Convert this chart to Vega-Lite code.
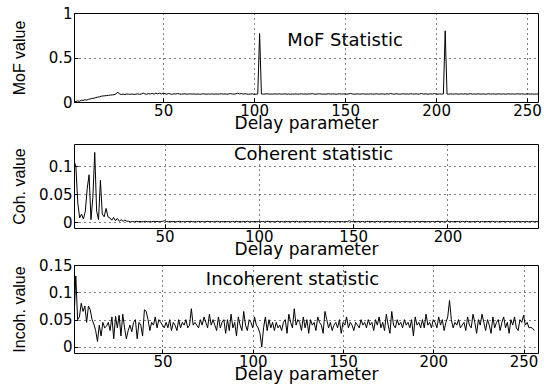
{
"$schema":"https://vega.github.io/schema/vega-lite/v6.json",
"background":"white",
"padding":{"left":10,"top":5,"right":5,"bottom":5},
"bounds":"flush",
"spacing":42,
"config":{
 "view":{"stroke":"black","strokeWidth":1},
 "axis":{"domain":false,"ticks":true,"tickSize":-4,"tickColor":"black","tickWidth":1,"grid":true,"gridColor":"black","gridDash":[1,4],"gridWidth":1,"gridOpacity":1,
  "labelFont":"DejaVu Sans","labelFontSize":15,"labelColor":"black","labelOverlap":false,"labelFlush":false,"labelSeparation":0,"tickCount":10,
  "titleColor":"black","titleFontWeight":"normal"},
 "axisX":{"labelPadding":5,"titleFont":"DejaVu Sans","titleFontSize":17,"titleY":26,"titleBaseline":"alphabetic"},
 "axisY":{"labelPadding":6,"titleX":-47,"titleFont":"Liberation Sans","titleFontSize":16,"titleFontWeight":"normal"}
},
"datasets":{
"mof":[
{"x":1,"y":0.01},{"x":2,"y":0.005},{"x":3,"y":0.012},{"x":4,"y":0.008},{"x":5,"y":0.02},{"x":6,"y":0.018},{"x":7,"y":0.025},{"x":8,"y":0.022},{"x":9,"y":0.03},{"x":10,"y":0.035},
{"x":11,"y":0.04},{"x":12,"y":0.042},{"x":13,"y":0.05},{"x":14,"y":0.055},{"x":15,"y":0.058},{"x":16,"y":0.065},{"x":17,"y":0.068},{"x":18,"y":0.07},{"x":19,"y":0.072},{"x":20,"y":0.075},
{"x":21,"y":0.078},{"x":22,"y":0.08},{"x":23,"y":0.082},{"x":24,"y":0.09},{"x":25,"y":0.112},{"x":26,"y":0.09},{"x":27,"y":0.085},{"x":28,"y":0.088},{"x":29,"y":0.084},{"x":30,"y":0.09},
{"x":31,"y":0.088},{"x":32,"y":0.086},{"x":33,"y":0.09},{"x":34,"y":0.085},{"x":35,"y":0.088},{"x":36,"y":0.092},{"x":37,"y":0.086},{"x":38,"y":0.09},{"x":39,"y":0.1},{"x":40,"y":0.09},
{"x":41,"y":0.088},{"x":42,"y":0.094},{"x":43,"y":0.09},{"x":44,"y":0.097},{"x":45,"y":0.088},{"x":46,"y":0.1},{"x":47,"y":0.092},{"x":48,"y":0.098},{"x":49,"y":0.09},{"x":50,"y":0.1},
{"x":51,"y":0.094},{"x":52,"y":0.088},{"x":53,"y":0.096},{"x":54,"y":0.09},{"x":55,"y":0.087},{"x":56,"y":0.092},{"x":57,"y":0.09},{"x":58,"y":0.095},{"x":59,"y":0.09},{"x":60,"y":0.088},
{"x":61,"y":0.09},{"x":62,"y":0.092},{"x":63,"y":0.088},{"x":64,"y":0.09},{"x":65,"y":0.091},{"x":66,"y":0.089},{"x":67,"y":0.09},{"x":68,"y":0.088},{"x":69,"y":0.09},{"x":70,"y":0.087},
{"x":71,"y":0.089},{"x":72,"y":0.092},{"x":73,"y":0.09},{"x":74,"y":0.088},{"x":75,"y":0.09},{"x":76,"y":0.089},{"x":77,"y":0.091},{"x":78,"y":0.088},{"x":79,"y":0.09},{"x":80,"y":0.089},
{"x":81,"y":0.09},{"x":82,"y":0.092},{"x":83,"y":0.089},{"x":84,"y":0.091},{"x":85,"y":0.088},{"x":86,"y":0.09},{"x":87,"y":0.094},{"x":88,"y":0.09},{"x":89,"y":0.088},{"x":90,"y":0.092},
{"x":91,"y":0.098},{"x":92,"y":0.09},{"x":93,"y":0.095},{"x":94,"y":0.089},{"x":95,"y":0.092},{"x":96,"y":0.09},{"x":97,"y":0.087},{"x":98,"y":0.09},{"x":99,"y":0.092},{"x":100,"y":0.085},
{"x":101,"y":0.088},{"x":102,"y":0.09},{"x":103,"y":0.77},{"x":104,"y":0.09},{"x":105,"y":0.088},{"x":106,"y":0.09},{"x":107,"y":0.092},{"x":108,"y":0.089},{"x":109,"y":0.09},{"x":110,"y":0.088},
{"x":111,"y":0.091},{"x":112,"y":0.09},{"x":113,"y":0.089},{"x":114,"y":0.092},{"x":115,"y":0.088},{"x":116,"y":0.09},{"x":117,"y":0.091},{"x":118,"y":0.088},{"x":119,"y":0.09},{"x":120,"y":0.087},
{"x":121,"y":0.09},{"x":122,"y":0.089},{"x":123,"y":0.091},{"x":124,"y":0.088},{"x":125,"y":0.09},{"x":126,"y":0.092},{"x":127,"y":0.089},{"x":128,"y":0.09},{"x":129,"y":0.088},{"x":130,"y":0.091},
{"x":131,"y":0.09},{"x":132,"y":0.094},{"x":133,"y":0.089},{"x":134,"y":0.088},{"x":135,"y":0.09},{"x":136,"y":0.092},{"x":137,"y":0.089},{"x":138,"y":0.09},{"x":139,"y":0.088},{"x":140,"y":0.09},
{"x":141,"y":0.092},{"x":142,"y":0.089},{"x":143,"y":0.091},{"x":144,"y":0.09},{"x":145,"y":0.088},{"x":146,"y":0.09},{"x":147,"y":0.092},{"x":148,"y":0.089},{"x":149,"y":0.091},{"x":150,"y":0.09},
{"x":151,"y":0.088},{"x":152,"y":0.092},{"x":153,"y":0.096},{"x":154,"y":0.09},{"x":155,"y":0.088},{"x":156,"y":0.09},{"x":157,"y":0.091},{"x":158,"y":0.089},{"x":159,"y":0.09},{"x":160,"y":0.092},
{"x":161,"y":0.088},{"x":162,"y":0.09},{"x":163,"y":0.089},{"x":164,"y":0.091},{"x":165,"y":0.09},{"x":166,"y":0.088},{"x":167,"y":0.092},{"x":168,"y":0.09},{"x":169,"y":0.089},{"x":170,"y":0.091},
{"x":171,"y":0.09},{"x":172,"y":0.088},{"x":173,"y":0.092},{"x":174,"y":0.089},{"x":175,"y":0.095},{"x":176,"y":0.09},{"x":177,"y":0.088},{"x":178,"y":0.093},{"x":179,"y":0.09},{"x":180,"y":0.088},
{"x":181,"y":0.09},{"x":182,"y":0.092},{"x":183,"y":0.089},{"x":184,"y":0.091},{"x":185,"y":0.088},{"x":186,"y":0.093},{"x":187,"y":0.09},{"x":188,"y":0.089},{"x":189,"y":0.092},{"x":190,"y":0.088},
{"x":191,"y":0.09},{"x":192,"y":0.095},{"x":193,"y":0.089},{"x":194,"y":0.091},{"x":195,"y":0.09},{"x":196,"y":0.088},{"x":197,"y":0.092},{"x":198,"y":0.089},{"x":199,"y":0.094},{"x":200,"y":0.09},
{"x":201,"y":0.088},{"x":202,"y":0.091},{"x":203,"y":0.089},{"x":204,"y":0.09},{"x":205,"y":0.8},{"x":206,"y":0.09},{"x":207,"y":0.088},{"x":208,"y":0.091},{"x":209,"y":0.09},{"x":210,"y":0.089},
{"x":211,"y":0.092},{"x":212,"y":0.088},{"x":213,"y":0.09},{"x":214,"y":0.091},{"x":215,"y":0.089},{"x":216,"y":0.092},{"x":217,"y":0.088},{"x":218,"y":0.09},{"x":219,"y":0.093},{"x":220,"y":0.089},
{"x":221,"y":0.09},{"x":222,"y":0.088},{"x":223,"y":0.092},{"x":224,"y":0.09},{"x":225,"y":0.089},{"x":226,"y":0.091},{"x":227,"y":0.088},{"x":228,"y":0.09},{"x":229,"y":0.092},{"x":230,"y":0.089},
{"x":231,"y":0.091},{"x":232,"y":0.09},{"x":233,"y":0.088},{"x":234,"y":0.092},{"x":235,"y":0.09},{"x":236,"y":0.089},{"x":237,"y":0.091},{"x":238,"y":0.088},{"x":239,"y":0.09},{"x":240,"y":0.092},
{"x":241,"y":0.089},{"x":242,"y":0.091},{"x":243,"y":0.088},{"x":244,"y":0.09},{"x":245,"y":0.092},{"x":246,"y":0.089},{"x":247,"y":0.091},{"x":248,"y":0.09},{"x":249,"y":0.088},{"x":250,"y":0.092},
{"x":251,"y":0.09},{"x":252,"y":0.089},{"x":253,"y":0.091},{"x":254,"y":0.088},{"x":255,"y":0.09},{"x":256,"y":0.09}
],
"coh":[
{"x":2,"y":0.11},{"x":3,"y":0.1},{"x":4,"y":0.035},{"x":5,"y":0.008},{"x":6,"y":0.015},{"x":7,"y":0.006},{"x":8,"y":0.02},{"x":9,"y":0.06},{"x":10,"y":0.085},
{"x":11,"y":0.005},{"x":12,"y":0.045},{"x":13,"y":0.125},{"x":14,"y":0.02},{"x":15,"y":0.005},{"x":16,"y":0.075},{"x":17,"y":0.015},{"x":18,"y":0.01},{"x":19,"y":0.025},{"x":20,"y":0.01},
{"x":21,"y":0.008},{"x":22,"y":0.004},{"x":23,"y":0.009},{"x":24,"y":0.003},{"x":25,"y":0.007},{"x":26,"y":0.002},{"x":27,"y":0.005},{"x":28,"y":0.002},{"x":29,"y":0.004},{"x":30,"y":0.002},
{"x":31,"y":0.002},{"x":32,"y":0.001},{"x":33,"y":0.0015},{"x":34,"y":0.001},{"x":35,"y":0.002},{"x":36,"y":0.0012},{"x":37,"y":0.0018},{"x":38,"y":0.001},{"x":39,"y":0.0014},{"x":40,"y":0.002},
{"x":41,"y":0.0011},{"x":42,"y":0.0016},{"x":43,"y":0.001},{"x":44,"y":0.0019},{"x":45,"y":0.0013},{"x":46,"y":0.0017},{"x":47,"y":0.001},{"x":48,"y":0.0015},{"x":49,"y":0.002},{"x":50,"y":0.003},
{"x":51,"y":0.0015},{"x":52,"y":0.001},{"x":53,"y":0.0018},{"x":54,"y":0.0012},{"x":55,"y":0.0016},{"x":56,"y":0.001},{"x":57,"y":0.0014},{"x":58,"y":0.0019},{"x":59,"y":0.0011},{"x":60,"y":0.0015},
{"x":61,"y":0.001},{"x":62,"y":0.0017},{"x":63,"y":0.0013},{"x":64,"y":0.002},{"x":65,"y":0.0011},{"x":66,"y":0.0015},{"x":67,"y":0.001},{"x":68,"y":0.0018},{"x":69,"y":0.0012},{"x":70,"y":0.0016},
{"x":71,"y":0.001},{"x":72,"y":0.0014},{"x":73,"y":0.002},{"x":74,"y":0.0012},{"x":75,"y":0.0017},{"x":76,"y":0.001},{"x":77,"y":0.0015},{"x":78,"y":0.0019},{"x":79,"y":0.0011},{"x":80,"y":0.0016},
{"x":81,"y":0.001},{"x":82,"y":0.0018},{"x":83,"y":0.0013},{"x":84,"y":0.0015},{"x":85,"y":0.001},{"x":86,"y":0.0017},{"x":87,"y":0.0012},{"x":88,"y":0.002},{"x":89,"y":0.0011},{"x":90,"y":0.0015},
{"x":91,"y":0.001},{"x":92,"y":0.0016},{"x":93,"y":0.0013},{"x":94,"y":0.0019},{"x":95,"y":0.001},{"x":96,"y":0.0015},{"x":97,"y":0.0012},{"x":98,"y":0.0018},{"x":99,"y":0.001},{"x":100,"y":0.0016},
{"x":101,"y":0.0012},{"x":102,"y":0.0017},{"x":103,"y":0.001},{"x":104,"y":0.0015},{"x":105,"y":0.002},{"x":106,"y":0.0011},{"x":107,"y":0.0016},{"x":108,"y":0.001},{"x":109,"y":0.0014},{"x":110,"y":0.0019},
{"x":111,"y":0.0012},{"x":112,"y":0.0016},{"x":113,"y":0.001},{"x":114,"y":0.0018},{"x":115,"y":0.0013},{"x":116,"y":0.0015},{"x":117,"y":0.001},{"x":118,"y":0.0017},{"x":119,"y":0.0012},{"x":120,"y":0.002},
{"x":121,"y":0.0011},{"x":122,"y":0.0015},{"x":123,"y":0.001},{"x":124,"y":0.0016},{"x":125,"y":0.0013},{"x":126,"y":0.0018},{"x":127,"y":0.001},{"x":128,"y":0.0015},{"x":129,"y":0.0012},{"x":130,"y":0.0017},
{"x":131,"y":0.001},{"x":132,"y":0.0016},{"x":133,"y":0.0012},{"x":134,"y":0.0019},{"x":135,"y":0.0011},{"x":136,"y":0.0015},{"x":137,"y":0.001},{"x":138,"y":0.0017},{"x":139,"y":0.0013},{"x":140,"y":0.0016},
{"x":141,"y":0.001},{"x":142,"y":0.0018},{"x":143,"y":0.0012},{"x":144,"y":0.0015},{"x":145,"y":0.001},{"x":146,"y":0.0017},{"x":147,"y":0.0012},{"x":148,"y":0.003},{"x":149,"y":0.0015},{"x":150,"y":0.0012},
{"x":151,"y":0.0018},{"x":152,"y":0.001},{"x":153,"y":0.0016},{"x":154,"y":0.0012},{"x":155,"y":0.0017},{"x":156,"y":0.001},{"x":157,"y":0.0015},{"x":158,"y":0.0019},{"x":159,"y":0.0011},{"x":160,"y":0.0016},
{"x":161,"y":0.001},{"x":162,"y":0.0014},{"x":163,"y":0.002},{"x":164,"y":0.0012},{"x":165,"y":0.0017},{"x":166,"y":0.001},{"x":167,"y":0.0015},{"x":168,"y":0.0018},{"x":169,"y":0.0011},{"x":170,"y":0.0016},
{"x":171,"y":0.001},{"x":172,"y":0.0018},{"x":173,"y":0.0013},{"x":174,"y":0.0015},{"x":175,"y":0.001},{"x":176,"y":0.0017},{"x":177,"y":0.0012},{"x":178,"y":0.002},{"x":179,"y":0.0011},{"x":180,"y":0.0015},
{"x":181,"y":0.001},{"x":182,"y":0.0016},{"x":183,"y":0.0013},{"x":184,"y":0.0019},{"x":185,"y":0.001},{"x":186,"y":0.0015},{"x":187,"y":0.0012},{"x":188,"y":0.0018},{"x":189,"y":0.001},{"x":190,"y":0.0016},
{"x":191,"y":0.0012},{"x":192,"y":0.0017},{"x":193,"y":0.001},{"x":194,"y":0.0015},{"x":195,"y":0.002},{"x":196,"y":0.0011},{"x":197,"y":0.0016},{"x":198,"y":0.001},{"x":199,"y":0.0014},{"x":200,"y":0.0025},
{"x":201,"y":0.0012},{"x":202,"y":0.0016},{"x":203,"y":0.001},{"x":204,"y":0.0018},{"x":205,"y":0.0013},{"x":206,"y":0.0015},{"x":207,"y":0.001},{"x":208,"y":0.0017},{"x":209,"y":0.0012},{"x":210,"y":0.002},
{"x":211,"y":0.0011},{"x":212,"y":0.0015},{"x":213,"y":0.001},{"x":214,"y":0.0016},{"x":215,"y":0.0013},{"x":216,"y":0.0018},{"x":217,"y":0.001},{"x":218,"y":0.0015},{"x":219,"y":0.0012},{"x":220,"y":0.0017},
{"x":221,"y":0.001},{"x":222,"y":0.0016},{"x":223,"y":0.0012},{"x":224,"y":0.0019},{"x":225,"y":0.0011},{"x":226,"y":0.0015},{"x":227,"y":0.001},{"x":228,"y":0.0017},{"x":229,"y":0.0013},{"x":230,"y":0.0016},
{"x":231,"y":0.001},{"x":232,"y":0.0018},{"x":233,"y":0.0012},{"x":234,"y":0.0015},{"x":235,"y":0.001},{"x":236,"y":0.0017},{"x":237,"y":0.0012},{"x":238,"y":0.0016},{"x":239,"y":0.001},{"x":240,"y":0.0015},
{"x":241,"y":0.0012},{"x":242,"y":0.0017},{"x":243,"y":0.001},{"x":244,"y":0.0015},{"x":245,"y":0.0018},{"x":246,"y":0.0011},{"x":247,"y":0.0015},{"x":248,"y":0.001}
],
"inc":[
{"x":1,"y":0.05},{"x":2,"y":0.13},{"x":3,"y":0.05},{"x":4,"y":0.055},{"x":5,"y":0.08},{"x":6,"y":0.065},{"x":7,"y":0.075},{"x":8,"y":0.045},{"x":9,"y":0.075},{"x":10,"y":0.068},
{"x":11,"y":0.05},{"x":12,"y":0.042},{"x":13,"y":0.03},{"x":14,"y":0.01},{"x":15,"y":0.04},{"x":16,"y":0.02},{"x":17,"y":0.045},{"x":18,"y":0.035},{"x":19,"y":0.038},{"x":20,"y":0.045},
{"x":21,"y":0.03},{"x":22,"y":0.055},{"x":23,"y":0.015},{"x":24,"y":0.056},{"x":25,"y":0.035},{"x":26,"y":0.058},{"x":27,"y":0.02},{"x":28,"y":0.06},{"x":29,"y":0.035},{"x":30,"y":0.015},
{"x":31,"y":0.03},{"x":32,"y":0.04},{"x":33,"y":0.028},{"x":34,"y":0.045},{"x":35,"y":0.05},{"x":36,"y":0.015},{"x":37,"y":0.045},{"x":38,"y":0.04},{"x":39,"y":0.02},{"x":40,"y":0.068},
{"x":41,"y":0.065},{"x":42,"y":0.05},{"x":43,"y":0.03},{"x":44,"y":0.045},{"x":45,"y":0.04},{"x":46,"y":0.055},{"x":47,"y":0.035},{"x":48,"y":0.05},{"x":49,"y":0.045},{"x":50,"y":0.04},
{"x":51,"y":0.035},{"x":52,"y":0.045},{"x":53,"y":0.035},{"x":54,"y":0.05},{"x":55,"y":0.03},{"x":56,"y":0.045},{"x":57,"y":0.04},{"x":58,"y":0.03},{"x":59,"y":0.05},{"x":60,"y":0.035},
{"x":61,"y":0.045},{"x":62,"y":0.04},{"x":63,"y":0.05},{"x":64,"y":0.035},{"x":65,"y":0.04},{"x":66,"y":0.07},{"x":67,"y":0.04},{"x":68,"y":0.045},{"x":69,"y":0.04},{"x":70,"y":0.035},
{"x":71,"y":0.05},{"x":72,"y":0.04},{"x":73,"y":0.055},{"x":74,"y":0.045},{"x":75,"y":0.035},{"x":76,"y":0.06},{"x":77,"y":0.04},{"x":78,"y":0.05},{"x":79,"y":0.04},{"x":80,"y":0.03},
{"x":81,"y":0.055},{"x":82,"y":0.035},{"x":83,"y":0.045},{"x":84,"y":0.05},{"x":85,"y":0.025},{"x":86,"y":0.05},{"x":87,"y":0.03},{"x":88,"y":0.06},{"x":89,"y":0.035},{"x":90,"y":0.045},
{"x":91,"y":0.02},{"x":92,"y":0.055},{"x":93,"y":0.04},{"x":94,"y":0.03},{"x":95,"y":0.065},{"x":96,"y":0.04},{"x":97,"y":0.03},{"x":98,"y":0.05},{"x":99,"y":0.045},{"x":100,"y":0.035},
{"x":101,"y":0.055},{"x":102,"y":0.04},{"x":103,"y":0.035},{"x":104,"y":0.025},{"x":105,"y":0.0},{"x":106,"y":0.035},{"x":107,"y":0.055},{"x":108,"y":0.03},{"x":109,"y":0.05},{"x":110,"y":0.035},
{"x":111,"y":0.045},{"x":112,"y":0.03},{"x":113,"y":0.045},{"x":114,"y":0.035},{"x":115,"y":0.04},{"x":116,"y":0.03},{"x":117,"y":0.045},{"x":118,"y":0.05},{"x":119,"y":0.025},{"x":120,"y":0.06},
{"x":121,"y":0.045},{"x":122,"y":0.035},{"x":123,"y":0.07},{"x":124,"y":0.04},{"x":125,"y":0.05},{"x":126,"y":0.045},{"x":127,"y":0.03},{"x":128,"y":0.055},{"x":129,"y":0.035},{"x":130,"y":0.05},
{"x":131,"y":0.025},{"x":132,"y":0.05},{"x":133,"y":0.04},{"x":134,"y":0.045},{"x":135,"y":0.03},{"x":136,"y":0.055},{"x":137,"y":0.045},{"x":138,"y":0.04},{"x":139,"y":0.025},{"x":140,"y":0.065},
{"x":141,"y":0.05},{"x":142,"y":0.035},{"x":143,"y":0.045},{"x":144,"y":0.03},{"x":145,"y":0.04},{"x":146,"y":0.045},{"x":147,"y":0.035},{"x":148,"y":0.05},{"x":149,"y":0.025},{"x":150,"y":0.045},
{"x":151,"y":0.04},{"x":152,"y":0.055},{"x":153,"y":0.035},{"x":154,"y":0.045},{"x":155,"y":0.04},{"x":156,"y":0.03},{"x":157,"y":0.045},{"x":158,"y":0.04},{"x":159,"y":0.035},{"x":160,"y":0.05},
{"x":161,"y":0.04},{"x":162,"y":0.045},{"x":163,"y":0.035},{"x":164,"y":0.05},{"x":165,"y":0.04},{"x":166,"y":0.045},{"x":167,"y":0.03},{"x":168,"y":0.05},{"x":169,"y":0.04},{"x":170,"y":0.055},
{"x":171,"y":0.035},{"x":172,"y":0.045},{"x":173,"y":0.03},{"x":174,"y":0.06},{"x":175,"y":0.04},{"x":176,"y":0.025},{"x":177,"y":0.065},{"x":178,"y":0.04},{"x":179,"y":0.035},{"x":180,"y":0.05},
{"x":181,"y":0.04},{"x":182,"y":0.045},{"x":183,"y":0.035},{"x":184,"y":0.05},{"x":185,"y":0.04},{"x":186,"y":0.045},{"x":187,"y":0.035},{"x":188,"y":0.05},{"x":189,"y":0.02},{"x":190,"y":0.055},
{"x":191,"y":0.04},{"x":192,"y":0.045},{"x":193,"y":0.035},{"x":194,"y":0.05},{"x":195,"y":0.035},{"x":196,"y":0.06},{"x":197,"y":0.04},{"x":198,"y":0.045},{"x":199,"y":0.035},{"x":200,"y":0.05},
{"x":201,"y":0.045},{"x":202,"y":0.035},{"x":203,"y":0.055},{"x":204,"y":0.04},{"x":205,"y":0.05},{"x":206,"y":0.03},{"x":207,"y":0.045},{"x":208,"y":0.055},{"x":209,"y":0.085},{"x":210,"y":0.05},
{"x":211,"y":0.035},{"x":212,"y":0.045},{"x":213,"y":0.04},{"x":214,"y":0.05},{"x":215,"y":0.035},{"x":216,"y":0.04},{"x":217,"y":0.045},{"x":218,"y":0.03},{"x":219,"y":0.055},{"x":220,"y":0.04},
{"x":221,"y":0.035},{"x":222,"y":0.06},{"x":223,"y":0.045},{"x":224,"y":0.025},{"x":225,"y":0.05},{"x":226,"y":0.04},{"x":227,"y":0.06},{"x":228,"y":0.045},{"x":229,"y":0.03},{"x":230,"y":0.05},
{"x":231,"y":0.04},{"x":232,"y":0.025},{"x":233,"y":0.055},{"x":234,"y":0.035},{"x":235,"y":0.045},{"x":236,"y":0.05},{"x":237,"y":0.03},{"x":238,"y":0.045},{"x":239,"y":0.055},{"x":240,"y":0.035},
{"x":241,"y":0.045},{"x":242,"y":0.025},{"x":243,"y":0.05},{"x":244,"y":0.04},{"x":245,"y":0.055},{"x":246,"y":0.035},{"x":247,"y":0.03},{"x":248,"y":0.05},{"x":249,"y":0.045},{"x":250,"y":0.058},
{"x":251,"y":0.04},{"x":252,"y":0.045},{"x":253,"y":0.035},{"x":254,"y":0.036},{"x":255,"y":0.034},{"x":256,"y":0.03}
]
},
"vconcat":[
{"width":464,"height":89,
 "layer":[
  {"data":{"name":"mof"},"mark":{"type":"line","color":"black","strokeWidth":1,"clip":true},
   "encoding":{
    "x":{"field":"x","type":"quantitative","scale":{"domain":[1,256],"nice":false,"zero":false},"axis":{"values":[50,100,150,200,250],"title":"Delay parameter","labelOverlap":false}},
    "y":{"field":"y","type":"quantitative","scale":{"domain":[0,1],"nice":false},"axis":{"values":[0,0.5,1],"format":".2~f","title":"MoF value","titleY":44.5,"labelOverlap":false}}}},
  {"data":{"values":[{}]},"mark":{"type":"text","text":"MoF Statistic","font":"DejaVu Sans","fontSize":18,"color":"black","align":"center","baseline":"middle"},
   "encoding":{"x":{"datum":150},"y":{"datum":0.685}}}
 ]},
{"bounds":"flush","spacing":37,
 "vconcat":[
{"width":464,"height":84,
 "layer":[
  {"data":{"name":"coh"},"mark":{"type":"line","color":"black","strokeWidth":1,"clip":true},
   "encoding":{
    "x":{"field":"x","type":"quantitative","scale":{"domain":[2,248],"nice":false,"zero":false},"axis":{"values":[50,100,150,200],"title":"Delay parameter","labelOverlap":false}},
    "y":{"field":"y","type":"quantitative","scale":{"domain":[-0.01,0.14],"nice":false,"zero":false},"axis":{"values":[0,0.05,0.1],"format":".2~f","title":"Coh. value","titleY":42,"labelOverlap":false}}}},
  {"data":{"values":[{}]},"mark":{"type":"text","text":"Coherent statistic","font":"DejaVu Sans","fontSize":18,"color":"black","align":"center","baseline":"middle"},
   "encoding":{"x":{"datum":129},"y":{"datum":0.12}}}
 ]},
{"width":464,"height":88,
 "layer":[
  {"data":{"name":"inc"},"mark":{"type":"line","color":"black","strokeWidth":1,"clip":true},
   "encoding":{
    "x":{"field":"x","type":"quantitative","scale":{"domain":[1,258],"nice":false,"zero":false},"axis":{"values":[50,100,150,200,250],"title":"Delay parameter","labelOverlap":false}},
    "y":{"field":"y","type":"quantitative","scale":{"domain":[-0.011,0.15],"nice":false,"zero":false},"axis":{"values":[0,0.05,0.1,0.15],"format":".2~f","title":"Incoh. value","titleY":44,"labelOverlap":false}}}},
  {"data":{"values":[{}]},"mark":{"type":"text","text":"Incoherent statistic","font":"DejaVu Sans","fontSize":18,"color":"black","align":"center","baseline":"middle"},
   "encoding":{"x":{"datum":122},"y":{"datum":0.122}}}
 ]}
 ]}
]
}
